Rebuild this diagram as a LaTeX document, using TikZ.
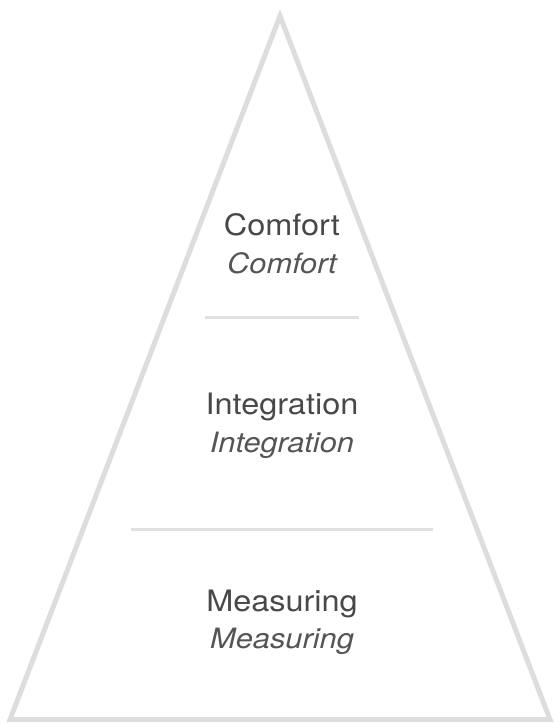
\documentclass[tikz,border=0pt]{standalone}
\usepackage{fontspec}
\setmainfont{TeX Gyre Heros}[FakeStretch=1.1]
\begin{document}
\begin{tikzpicture}[x=1pt,y=-1pt,
  edge/.style={draw=edgegray,line width=5pt,line join=miter},
  sep/.style={draw=sepgray,line width=3pt},
  title/.style={anchor=base,inner sep=0pt,text=titlegray,font=\fontsize{29.5}{34}\selectfont},
  subtitle/.style={anchor=base,inner sep=0pt,text=subgray,font=\fontsize{28}{32}\selectfont\itshape}]
\definecolor{edgegray}{RGB}{221,221,223}
\definecolor{sepgray}{RGB}{224,224,226}
\definecolor{titlegray}{RGB}{72,72,72}
\definecolor{subgray}{RGB}{85,85,85}
\useasboundingbox (0,0) rectangle (554,724);
\coordinate (apex) at (280,16);
\coordinate (bl) at (10,719.5);
\coordinate (br) at (550,719.5);
\draw[edge] (apex) -- (bl) -- (br) -- cycle;
\coordinate (s1a) at (205,317);
\coordinate (s1b) at (359,317);
\coordinate (s2a) at (131,529);
\coordinate (s2b) at (433,529);
\draw[sep] (s1a) -- (s1b);
\draw[sep] (s2a) -- (s2b);
\node[title] (c1) at (282,235) {Comfort};
\node[subtitle] (c2) at (282,273) {Comfort};
\node[title] (i1) at (282,414) {Integration};
\node[subtitle] (i2) at (282,452) {Integration};
\node[title] (m1) at (282,611) {Measuring};
\node[subtitle] (m2) at (282,648) {Measuring};
\end{tikzpicture}
\end{document}
